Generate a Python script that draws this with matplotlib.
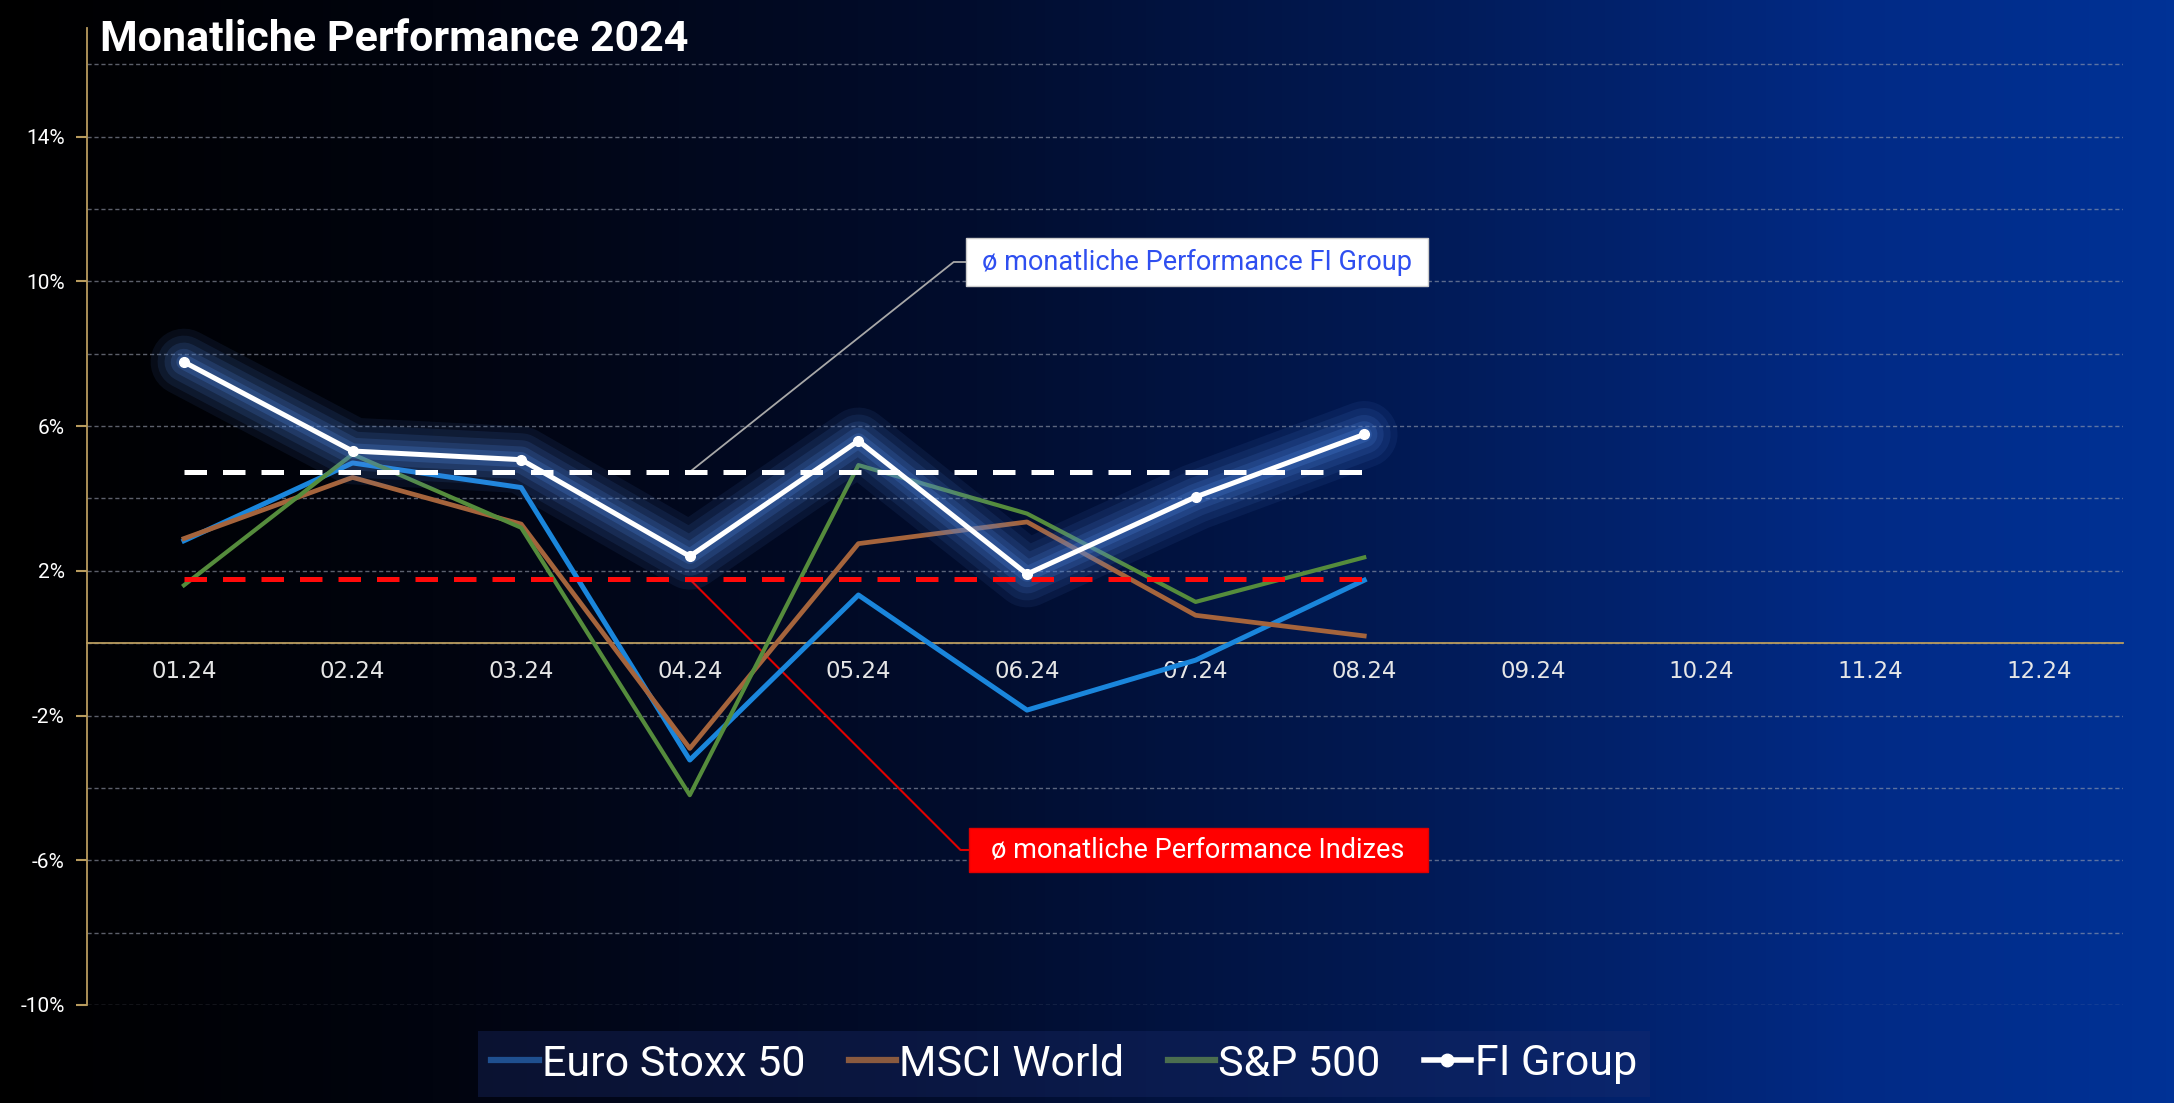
import numpy as np
import matplotlib
matplotlib.use("Agg")
import matplotlib.pyplot as plt
from matplotlib.colors import LinearSegmentedColormap
from matplotlib.lines import Line2D
from matplotlib.patches import Rectangle

# Monatliche Performance 2024 (in %)
months = ["01.24", "02.24", "03.24", "04.24", "05.24", "06.24",
          "07.24", "08.24", "09.24", "10.24", "11.24", "12.24"]
euro_stoxx = [2.83, 4.98, 4.30, -3.23, 1.33, -1.85, -0.47, 1.74]
msci_world = [2.89, 4.58, 3.29, -2.91, 2.75, 3.35, 0.77, 0.20]
sp500 = [1.60, 5.22, 3.19, -4.20, 4.92, 3.58, 1.14, 2.37]
fi_group = [7.77, 5.31, 5.07, 2.40, 5.59, 1.91, 4.04, 5.77]
series_names = ["Euro Stoxx 50", "MSCI World", "S&P 500", "FI Group"]

fi_avg = np.mean(fi_group)
idx_avg = np.mean([np.mean(euro_stoxx), np.mean(msci_world), np.mean(sp500)])

W, H = 2174, 1103
fig = plt.figure(figsize=(W / 100, H / 100), dpi=100)

# hintergrund verlauf
bg = fig.add_axes([0, 0, 1, 1], zorder=-10)
cmap = LinearSegmentedColormap.from_list("bg", [
    (0.0, "#000000"), (0.2, "#01040f"), (0.45, "#010d2e"),
    (0.65, "#011a55"), (0.85, "#022a85"), (1.0, "#003296")])
bg.imshow(np.linspace(0, 1, 512)[None, :], aspect="auto", cmap=cmap,
          extent=[0, 1, 0, 1])
bg.axis("off")

ax = fig.add_axes([87 / W, 1 - 1005 / H, (2123 - 87) / W, (1005 - 28) / H])
ax.patch.set_alpha(0)
x = np.arange(len(months))
n = len(fi_group)

ax.set_xlim(-0.575, 11.5)
ax.set_ylim(-10, 17)

gold = "#b89b5e"
ax.set_yticks(np.arange(-10, 15, 4))
ax.set_yticks(np.arange(-10, 17, 2), minor=True)
ax.set_yticklabels([f"{v}%" for v in np.arange(-10, 15, 4)], family="Roboto")
ax.set_xticks(x)
ax.set_xticklabels(months, family="Roboto")
ax.grid(axis="y", which="both", color="#9aa0b0", alpha=0.6, lw=1.0,
        ls=(0, (3, 2)))
ax.set_axisbelow(True)

for s in ["top", "right"]:
    ax.spines[s].set_visible(False)
ax.spines["left"].set_color(gold)
ax.spines["left"].set_linewidth(1.3)
ax.spines["bottom"].set_position(("data", 0))
ax.spines["bottom"].set_color(gold)
ax.spines["bottom"].set_linewidth(1.3)
ax.tick_params(axis="x", length=0, pad=12, labelsize=16.5, labelcolor="#e6e6e6")
ax.tick_params(axis="y", which="major", length=8, width=1.5, color=gold,
               labelcolor="white", labelsize=15, pad=8)
ax.tick_params(axis="y", which="minor", length=0)

ax.plot(x[:n], euro_stoxx, color="#1a86dc", lw=3.6, zorder=3)
ax.plot(x[:n], msci_world, color="#a5643c", lw=3.4, zorder=3)
ax.plot(x[:n], sp500, color="#558c3c", lw=3.0, zorder=3)

# leuchteffekt
for lw, a in [(48, 0.09), (38, 0.11), (28, 0.14), (19, 0.18), (11, 0.24)]:
    ax.plot(x[:n], fi_group, color="#4f86e0", lw=lw, alpha=a,
            solid_joinstyle="round", solid_capstyle="round", zorder=4)
ax.plot(x[:n], fi_group, color="white", lw=3.6, marker="o", ms=7, zorder=6)

ax.plot([0, n - 1], [fi_avg, fi_avg], color="white", lw=3.6,
        dashes=(4.5, 3.2), zorder=5)
ax.plot([0, n - 1], [idx_avg, idx_avg], color="#ff0a0a", lw=3.6,
        dashes=(4.5, 3.2), zorder=5)

# beschriftungen
fig.add_artist(Rectangle((966 / W, 1 - 286 / H), 462 / W, 48 / H,
                         transform=fig.transFigure, facecolor="white",
                         edgecolor="#cccccc", lw=1, zorder=7))
fig.text(1197 / W, 1 - 262 / H, "ø monatliche Performance FI Group",
         ha="center", va="center", color="#2f4ff0", fontsize=19.5,
         family="Roboto", zorder=8)
ax.annotate("", xy=(3, fi_avg), xycoords="data",
            xytext=(966 / W, 1 - 262 / H), textcoords="figure fraction",
            arrowprops=dict(arrowstyle="-", color="#a8a8a8", lw=1.3,
                            shrinkA=0, shrinkB=0,
                            connectionstyle="angle,angleA=0,angleB=38.5"),
            zorder=2)

fig.add_artist(Rectangle((969 / W, 1 - 872 / H), 459 / W, 44 / H,
                         transform=fig.transFigure, facecolor="#ff0000",
                         edgecolor="#e00000", lw=1, zorder=7))
fig.text(1198 / W, 1 - 850 / H, "ø monatliche Performance Indizes",
         ha="center", va="center", color="white", fontsize=19.5,
         family="Roboto", zorder=8)
ax.annotate("", xy=(3, idx_avg), xycoords="data",
            xytext=(969 / W, 1 - 850 / H), textcoords="figure fraction",
            arrowprops=dict(arrowstyle="-", color="#e00000", lw=1.5,
                            shrinkA=0, shrinkB=0,
                            connectionstyle="angle,angleA=0,angleB=-45"),
            zorder=2)

fig.text(100 / W, 1 - 51 / H, "Monatliche Performance 2024", color="white",
         fontsize=31, fontweight="bold", family="Roboto", va="baseline")

handles = [
    Line2D([], [], color="#1f4f8f", lw=4.5),
    Line2D([], [], color="#8a5a3f", lw=4.5),
    Line2D([], [], color="#4b6e4f", lw=4.5),
    Line2D([], [], color="white", lw=4, marker="o", ms=9),
]
leg = fig.legend(handles, series_names, loc="center", ncol=4,
                 bbox_to_anchor=(1064 / W, 1 - 1064 / H),
                 prop=dict(family="Roboto", size=31),
                 handlelength=1.1, handletextpad=0.08, columnspacing=1.0,
                 frameon=True, fancybox=False, borderpad=0.3)
leg.get_frame().set_facecolor("#1c2d6e")
leg.get_frame().set_alpha(0.35)
leg.get_frame().set_edgecolor("none")
for t in leg.get_texts():
    t.set_color("white")

fig.savefig("out.png", dpi=100)
